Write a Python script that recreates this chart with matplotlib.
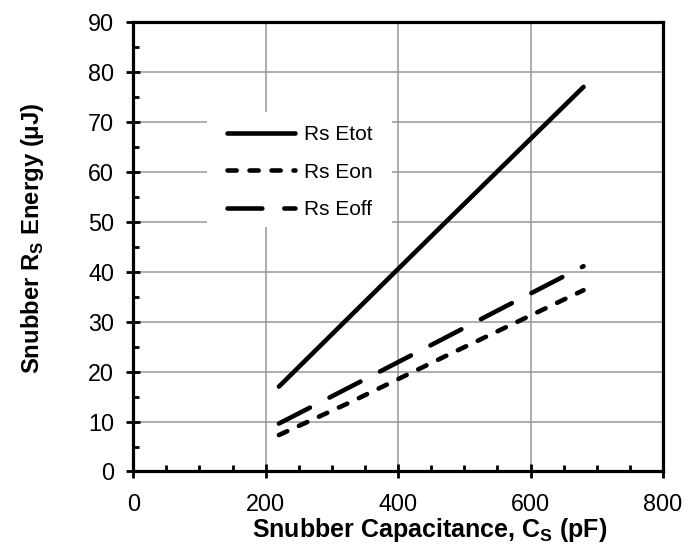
import matplotlib.pyplot as plt
from matplotlib.patches import Rectangle
from matplotlib.ticker import MultipleLocator

plt.rcParams['font.family'] = ['Liberation Sans', 'DejaVu Sans']

# snubber capacitance (pF) and Rs energy (uJ)
cap = [220, 330, 470, 560, 680]
e_tot = [17, 31.4, 49.7, 61.4, 77]
e_on = [7.3, 14, 23, 28.7, 36.3]
e_off = [9.6, 17.1, 26.7, 32.9, 41.1]

fig = plt.figure(figsize=(7, 5.48), dpi=100)
ax = fig.add_axes([0.1904, 0.1396, 0.7567, 0.8203])

lw = 3.3
ax.plot(cap, e_tot, color='black', lw=lw, solid_capstyle='round', label='Rs Etot', zorder=4)
ax.plot(cap, e_on, color='black', lw=lw, dashes=(2.0, 2.8), dash_capstyle='round', label='Rs Eon', zorder=4)
ax.plot(cap, e_off, color='black', lw=lw, dashes=(7.6, 4.8), dash_capstyle='round', label='Rs Eoff', zorder=4)

ax.set_xlim(0, 800)
ax.set_ylim(0, 90)
ax.xaxis.set_major_locator(MultipleLocator(200))
ax.xaxis.set_minor_locator(MultipleLocator(50))
ax.yaxis.set_major_locator(MultipleLocator(10))
ax.yaxis.set_minor_locator(MultipleLocator(5))
ax.grid(True, which='major', color='#999999', lw=1.1)
ax.set_axisbelow(True)

for s in ax.spines.values():
    s.set_linewidth(2.3)
    s.set_zorder(5)
ax.tick_params(which='major', direction='inout', length=9.5, width=2, labelsize=16.8)
ax.tick_params(axis='x', which='major', pad=10.5)
ax.tick_params(axis='y', which='major', pad=9)
ax.tick_params(which='minor', direction='in', length=4.5, width=2)

ax.set_xlabel('Snubber Capacitance, C$_\\mathregular{S}$ (pF)', fontsize=18, fontweight='bold', labelpad=0)
ax.set_ylabel('Snubber R$_\\mathregular{S}$ Energy (\u03bcJ)', fontsize=17.2, fontweight='bold', labelpad=30)
ax.xaxis.label.set_x(0.56)
ax.yaxis.label.set_y(0.52)

# white box behind the legend, covering the grid
ax.add_patch(Rectangle((0.1386, 0.5446), 0.3494, 0.2545, transform=ax.transAxes,
                       facecolor='white', edgecolor='none', zorder=2))
leg = ax.legend(loc='upper left', bbox_to_anchor=(0.176, 0.771), fontsize=15, frameon=False,
                handlelength=3.3, handletextpad=0.4, labelspacing=0.9,
                borderpad=0, borderaxespad=0)

fig.savefig('out.png', dpi=100)
